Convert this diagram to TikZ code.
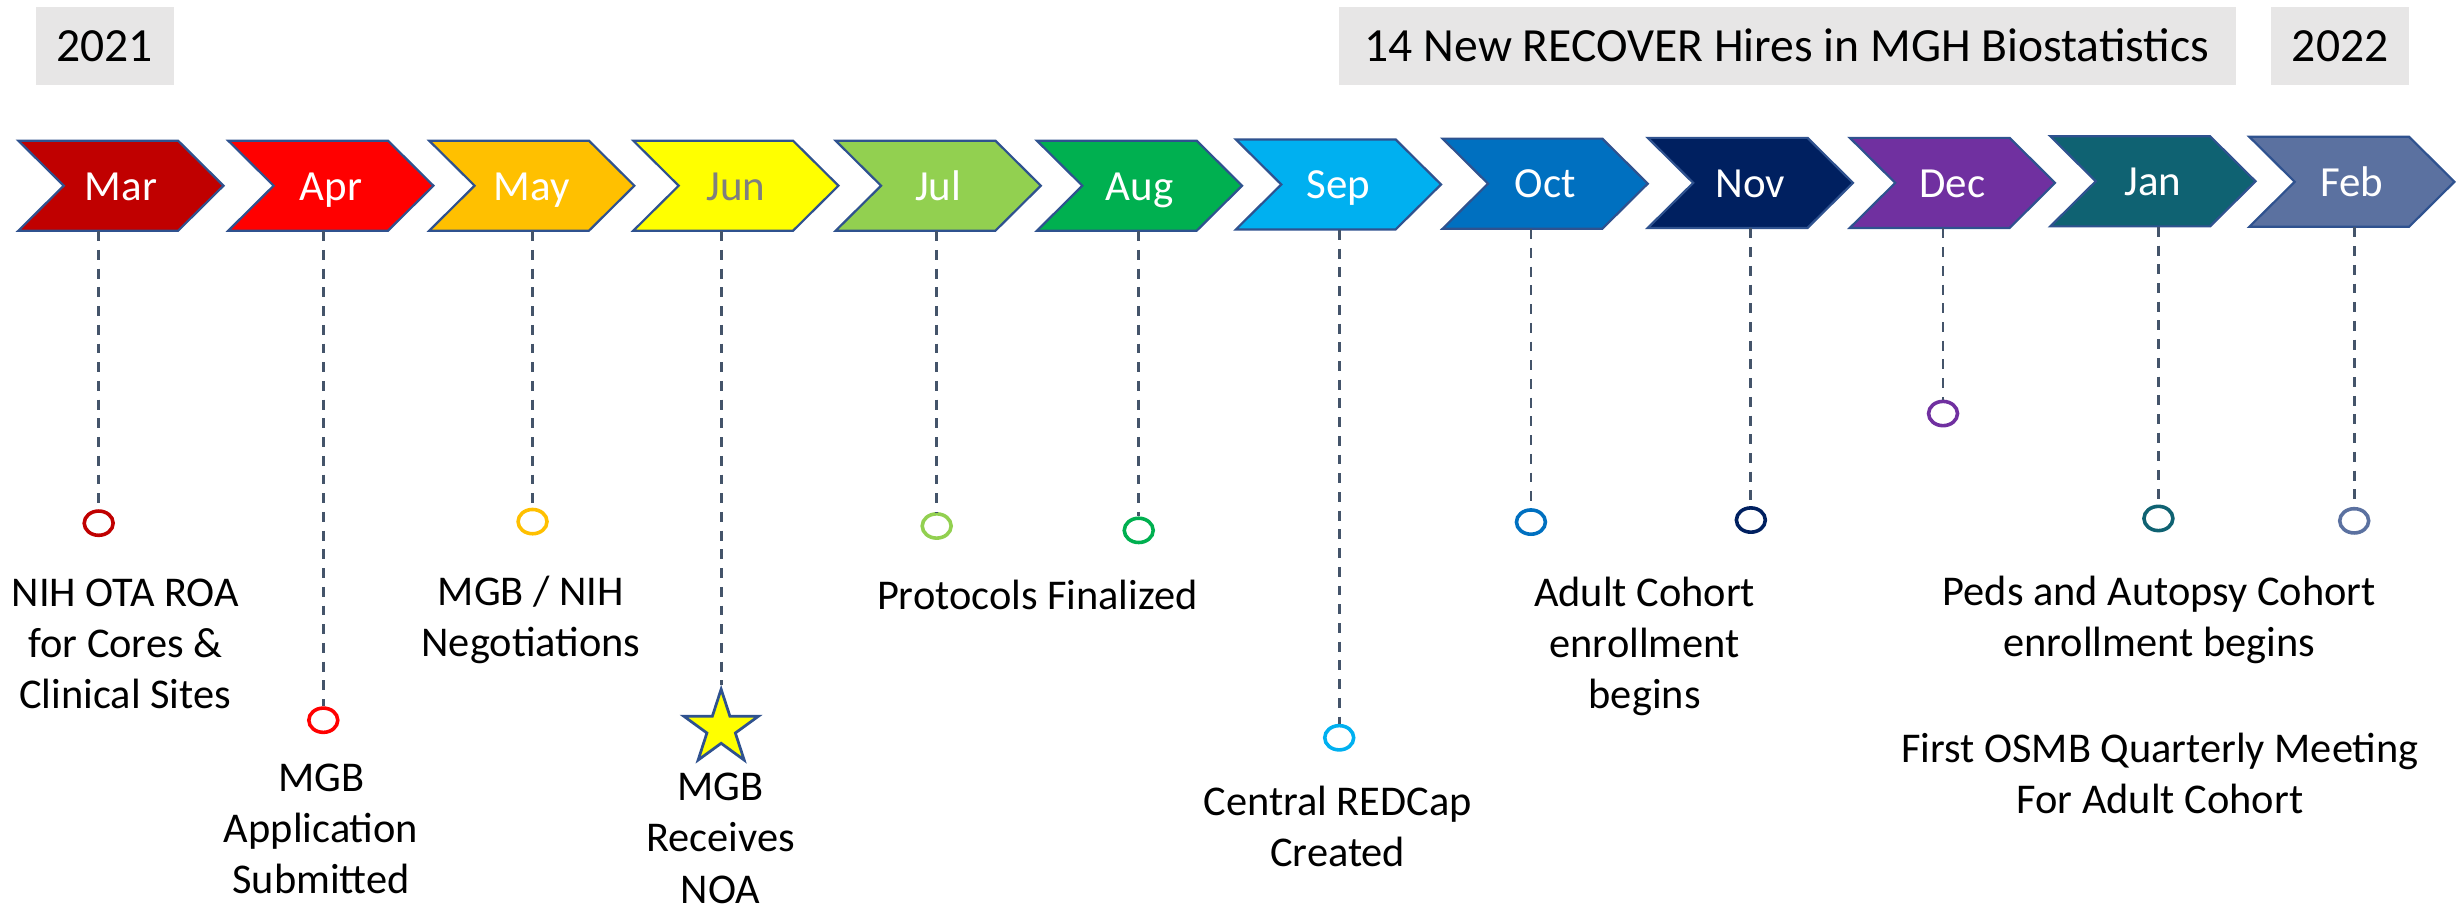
\documentclass[tikz,border=0pt]{standalone}
\usepackage{fontspec}
\setmainfont{Carlito}
\usepackage{tikz}
\usetikzlibrary{shapes.geometric}

\definecolor{cMar}{HTML}{C00000}
\definecolor{cApr}{HTML}{FF0000}
\definecolor{cMay}{HTML}{FFC000}
\definecolor{cJun}{HTML}{FFFF00}
\definecolor{cJul}{HTML}{92D050}
\definecolor{cAug}{HTML}{00B050}
\definecolor{cSep}{HTML}{00B0F0}
\definecolor{cOct}{HTML}{0070C0}
\definecolor{cNov}{HTML}{002060}
\definecolor{cDec}{HTML}{7030A0}
\definecolor{cJan}{HTML}{0F6272}
\definecolor{cFeb}{HTML}{5B71A0}
\definecolor{chevline}{HTML}{2F528F}
\definecolor{stemgray}{HTML}{44546A}
\definecolor{boxgray}{HTML}{E7E6E6}
\definecolor{labgray}{HTML}{7F7F7F}

\tikzset{
  chev/.style={draw=chevline, line width=0.8pt, line join=miter},
  mlab/.style={inner sep=0pt, minimum height=1.15cm, text height=10.4pt, text depth=0pt, text=white, font=\fontsize{15.6}{18}\selectfont},
  stem/.style={draw=stemgray, line width=1pt, dash pattern=on 3.6pt off 3.2pt},
  evdot/.style={ellipse, fill=white, line width=1.3pt, minimum width=0.37cm, minimum height=0.31cm, inner sep=0pt},
  evtxt/.style={align=center, inner sep=0pt, font=\fontsize{15.4}{18.6}\selectfont},
  yrbox/.style={fill=boxgray, inner sep=0pt, minimum height=0.994cm, text height=11.7pt, text depth=0pt, font=\fontsize{17.3}{20}\selectfont},
}

\begin{document}
\begin{tikzpicture}[x=0.02cm, y=-0.02cm]
\useasboundingbox (0,0) rectangle (1568,583);
%%% The year boxes on top
\node[yrbox, minimum width=1.766cm] (y21) at (66.9,29.2) {2021};
\node[yrbox, minimum width=11.456cm] (hires) at (1140.9,29.2) {14 New RECOVER Hires in MGH Biostatistics};
\node[yrbox, minimum width=1.76cm] (y22) at (1494,29.2) {2022};
%%% The month chevrons
\filldraw[chev, fill=cMar] (11.7,89.8) -- ++(102,0) -- ++(29,28.75) -- ++(-29,28.75) -- ++(-102,0) -- ++(29,-28.75) -- cycle;
\filldraw[chev, fill=cApr] (145.7,89.8) -- ++(102,0) -- ++(29,28.75) -- ++(-29,28.75) -- ++(-102,0) -- ++(29,-28.75) -- cycle;
\filldraw[chev, fill=cMay] (274,89.8) -- ++(102,0) -- ++(29,28.75) -- ++(-29,28.75) -- ++(-102,0) -- ++(29,-28.75) -- cycle;
\filldraw[chev, fill=cJun] (404.3,89.8) -- ++(102,0) -- ++(29,28.75) -- ++(-29,28.75) -- ++(-102,0) -- ++(29,-28.75) -- cycle;
\filldraw[chev, fill=cJul] (533.5,89.8) -- ++(102,0) -- ++(29,28.75) -- ++(-29,28.75) -- ++(-102,0) -- ++(29,-28.75) -- cycle;
\filldraw[chev, fill=cAug] (662,89.8) -- ++(102,0) -- ++(29,28.75) -- ++(-29,28.75) -- ++(-102,0) -- ++(29,-28.75) -- cycle;
\filldraw[chev, fill=cSep] (789,89) -- ++(102,0) -- ++(29,28.75) -- ++(-29,28.75) -- ++(-102,0) -- ++(29,-28.75) -- cycle;
\filldraw[chev, fill=cOct] (921,88.5) -- ++(102,0) -- ++(29,28.75) -- ++(-29,28.75) -- ++(-102,0) -- ++(29,-28.75) -- cycle;
\filldraw[chev, fill=cNov] (1052,88) -- ++(102,0) -- ++(29,28.75) -- ++(-29,28.75) -- ++(-102,0) -- ++(29,-28.75) -- cycle;
\filldraw[chev, fill=cDec] (1181,88) -- ++(102,0) -- ++(29,28.75) -- ++(-29,28.75) -- ++(-102,0) -- ++(29,-28.75) -- cycle;
\filldraw[chev, fill=cJan] (1309,87) -- ++(102,0) -- ++(29,28.75) -- ++(-29,28.75) -- ++(-102,0) -- ++(29,-28.75) -- cycle;
\filldraw[chev, fill=cFeb] (1436,87.3) -- ++(102,0) -- ++(29,28.75) -- ++(-29,28.75) -- ++(-102,0) -- ++(29,-28.75) -- cycle;
%%% The month names
\node[mlab] (mar) at (77.2,118.55) {Mar};
\node[mlab] (apr) at (211.2,118.55) {Apr};
\node[mlab] (may) at (339.5,118.55) {May};
\node[mlab, text=labgray] (jun) at (469.8,118.55) {Jun};
\node[mlab] (jul) at (599,118.55) {Jul};
\node[mlab] (aug) at (727.5,118.55) {Aug};
\node[mlab] (sep) at (854.5,117.75) {Sep};
\node[mlab] (oct) at (986.5,117.25) {Oct};
\node[mlab] (nov) at (1117.5,116.75) {Nov};
\node[mlab] (dec) at (1246.5,116.75) {Dec};
\node[mlab] (jan) at (1374.5,115.75) {Jan};
\node[mlab] (feb) at (1501.5,116.05) {Feb};
%%% The event markers
\node[evdot, draw=cMar] (dmar) at (63,334) {};
\node[evdot, draw=cApr] (dapr) at (206.4,459.8) {};
\node[evdot, draw=cMay] (dmay) at (340,333) {};
\node[star, star points=5, star point ratio=2.618, minimum size=1cm, inner sep=0pt, fill=cJun, draw=chevline, line width=1pt] (djun) at (460.4,465) {};
\node[evdot, draw=cJul] (djul) at (598,335.8) {};
\node[evdot, draw=cAug] (daug) at (727,338.6) {};
\node[evdot, draw=cSep] (dsep) at (855,471) {};
\node[evdot, draw=cOct] (doct) at (977.4,333.3) {};
\node[evdot, draw=cNov] (dnov) at (1117.8,332) {};
\node[evdot, draw=cDec] (ddec) at (1240.5,264) {};
\node[evdot, draw=cJan] (djan) at (1378,331) {};
\node[evdot, draw=cFeb] (dfeb) at (1503,332.5) {};
%%% The dashed stems from the months down to the markers
\draw[stem] (mar.south -| dmar) -- (dmar);
\draw[stem] (apr.south -| dapr) -- (dapr);
\draw[stem] (may.south -| dmay) -- (dmay);
\draw[stem] (jun.south -| djun) -- (djun);
\draw[stem] (jul.south -| djul) -- (djul);
\draw[stem] (aug.south -| daug) -- (daug);
\draw[stem] (sep.south -| dsep) -- (dsep);
\draw[stem] (oct.south -| doct) -- (doct);
\draw[stem] (nov.south -| dnov) -- (dnov);
\draw[stem] (dec.south -| ddec) -- (ddec);
\draw[stem] (jan.south -| djan) -- (djan);
\draw[stem] (feb.south -| dfeb) -- (dfeb);
%%% The event texts (base = last line)
\node[evtxt, anchor=base] (tnih) at (80,452.3) {NIH OTA ROA\\for Cores \&\\Clinical Sites};
\node[evtxt, anchor=base] (tapp) at (205,570.4) {MGB\\Application\\Submitted};
\node[evtxt, anchor=base] (tneg) at (339,419.3) {MGB / NIH\\Negotiations};
\node[evtxt, anchor=base] (tnoa) at (460,576.5) {MGB\\Receives\\NOA};
\node[evtxt, anchor=base] (tprot) at (662.3,389) {Protocols Finalized};
\node[evtxt, anchor=base] (tred) at (854,553.5) {Central REDCap\\Created};
\node[evtxt, anchor=base] (tadult) at (1050,452.3) {Adult Cohort\\enrollment\\begins};
\node[evtxt, anchor=base] (tpeds) at (1378.5,419.3) {Peds and Autopsy Cohort\\enrollment begins};
\node[evtxt, anchor=base] (tosmb) at (1379,519.4) {First OSMB Quarterly Meeting\\For Adult Cohort};
\end{tikzpicture}
\end{document}
